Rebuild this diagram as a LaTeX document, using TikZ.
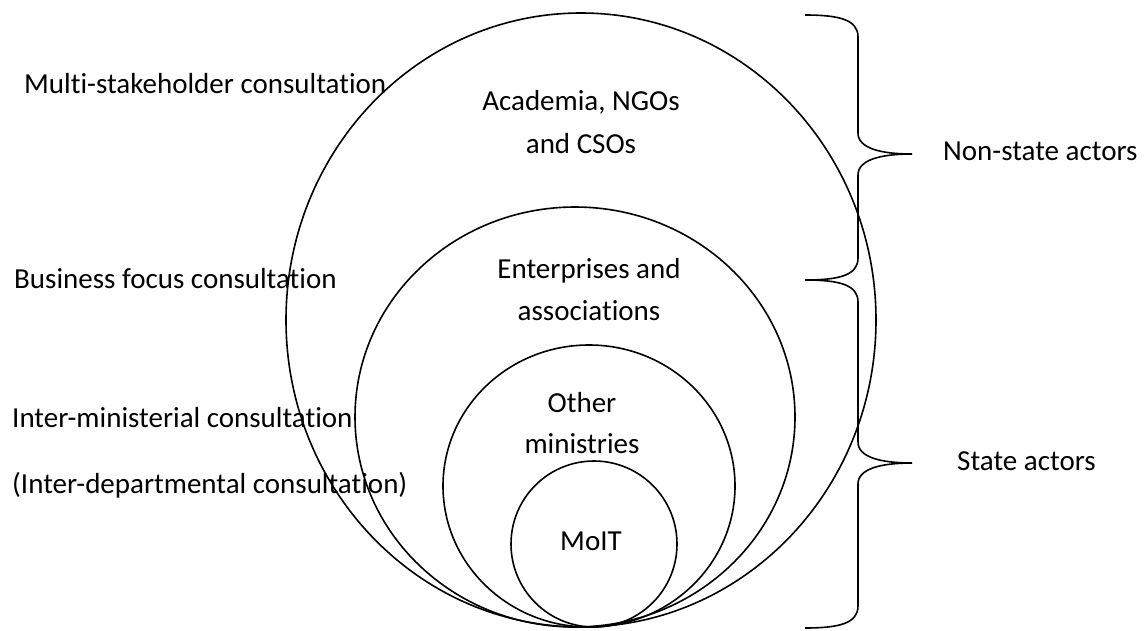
\documentclass[tikz,border=0pt]{standalone}
\usepackage{fontspec}
\setmainfont{Carlito}[Ligatures=NoCommon]
\begin{document}
\begin{tikzpicture}[x=1pt,y=-1pt,
  lbl/.style={inner sep=0pt, font=\fontsize{29}{35}\selectfont},
  ring/.style={draw=black, line width=1.6pt},
  brace/.style={draw=black, line width=1.6pt}]
\useasboundingbox (0,0) rectangle (1146,630);
% circles
\draw[ring] (581,320) ellipse [x radius=295pt, y radius=307pt];
\draw[ring] (575,417) ellipse [x radius=220pt, y radius=210pt];
\draw[ring] (589,486) ellipse [x radius=146pt, y radius=141pt];
\draw[ring] (594,544) ellipse [x radius=83pt, y radius=83pt];
% inner labels
\node[lbl, anchor=base] (acad1) at (581,110) {Academia, NGOs};
\node[lbl, anchor=base] (acad2) at (581,153) {and CSOs};
\node[lbl, anchor=base] (ent1) at (589,278) {Enterprises and};
\node[lbl, anchor=base] (ent2) at (589,320) {associations};
\node[lbl, anchor=base] (oth1) at (582,412) {Other};
\node[lbl, anchor=base] (oth2) at (582,453) {ministries};
\node[lbl, anchor=base] (moit) at (591,550) {MoIT};
% left labels
\node[lbl, anchor=base west] (multi) at (24,93) {Multi-stakeholder consultation};
\node[lbl, anchor=base west] (bus) at (14,288) {Business focus consultation};
\node[lbl, anchor=base west] (inter) at (12,427) {Inter-ministerial consultation};
\node[lbl, anchor=base west] (dept) at (12,493) {(Inter-departmental consultation)};
% right labels
\node[lbl, anchor=base west] (nonstate) at (943,160) {Non-state actors};
\node[lbl, anchor=base west] (state) at (957,470) {State actors};
% braces
\coordinate (b1top) at (805,15);
\coordinate (b1tip) at (912,154);
\coordinate (bmid) at (805,280);
\coordinate (b2tip) at (912,463);
\coordinate (b2bot) at (805,628);
\draw[brace] (b1top) .. controls (840,15) and (858,20) .. (858,37)
  -- (858,133) .. controls (858,148) and (880,154) .. (b1tip)
  .. controls (880,154) and (858,160) .. (858,175)
  -- (858,258) .. controls (858,275) and (840,280) .. (bmid);
\draw[brace] (bmid) .. controls (840,280) and (858,285) .. (858,302)
  -- (858,442) .. controls (858,457) and (880,463) .. (b2tip)
  .. controls (880,463) and (858,469) .. (858,484)
  -- (858,606) .. controls (858,623) and (840,628) .. (b2bot);
\end{tikzpicture}
\end{document}
